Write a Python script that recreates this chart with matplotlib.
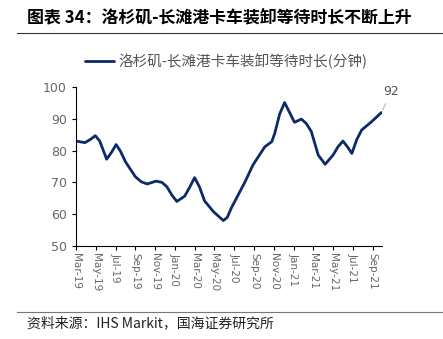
import matplotlib
matplotlib.use("Agg")
import matplotlib.pyplot as plt

plt.rcParams['font.family'] = ['Noto Sans CJK SC', 'DejaVu Sans']

# months since Mar-19, waiting time (minutes)
months = [0, 0.9, 1.5, 1.95, 2.4, 3.1, 3.6, 4.06, 4.5, 5, 6, 6.6, 7.2, 8.1, 8.7, 9.2, 9.7,
          10.2, 11, 11.5, 12, 12.5, 13, 13.9, 14.9, 15.3, 15.7, 17.1, 17.9, 19.1, 19.8,
          20.1, 20.6, 21.1, 21.6, 22.1, 22.8, 23.3, 23.8, 24.5, 25.2, 26, 26.5, 27,
          27.5, 27.9, 28.4, 28.9, 29.9, 30.9]
wait_min = [83, 82.5, 83.6, 84.7, 83.0, 77.3, 79.5, 81.9, 79.8, 76.5, 71.8, 70.2, 69.5,
            70.4, 70.0, 68.6, 66.0, 64, 65.7, 68.5, 71.5, 68.5, 64.2, 60.8, 58, 59.0,
            61.9, 70.2, 75.5, 81.2, 82.8, 85.4, 91.5, 95.1, 92.0, 88.9, 89.9, 88.5, 86,
            78.6, 75.7, 78.6, 81.2, 83, 81.0, 79.1, 83.5, 86.5, 89.1, 92]
tick_pos = list(range(0, 31, 2))
tick_labels = ["Mar-19", "May-19", "Jul-19", "Sep-19", "Nov-19", "Jan-20", "Mar-20", "May-20",
               "Jul-20", "Sep-20", "Nov-20", "Jan-21", "Mar-21", "May-21", "Jul-21", "Sep-21"]
series_name = "洛杉矶-长滩港卡车装卸等待时长(分钟)"

fig = plt.figure(figsize=(4.43, 3.39), dpi=100)
ax = fig.add_axes([76 / 443, 1 - 246 / 339, (382 - 76) / 443, (246 - 87) / 339])

line, = ax.plot(months, wait_min, color="#0c2a6a", lw=2.0, solid_capstyle="round",
                solid_joinstyle="round")
ax.set_xlim(0, 30.95)
ax.set_ylim(50, 100)
ax.set_yticks(range(50, 101, 10))
ax.set_xticks(tick_pos)
ax.set_xticklabels(tick_labels, rotation=270, fontsize=7.5, color="#666666",
                   family=["DejaVu Sans"])
ax.tick_params(axis="y", labelsize=9, colors="#666666", length=3, direction="out")
ax.tick_params(axis="x", length=3, direction="out", pad=2)
for lab in ax.get_yticklabels():
    lab.set_family(["DejaVu Sans"])
for s in ["top", "right"]:
    ax.spines[s].set_visible(False)
ax.spines["left"].set_color("black")
ax.spines["bottom"].set_color("black")
ax.tick_params(axis="both", which="both", color="black")

# end label
ax.annotate("92", xy=(months[-1], wait_min[-1]), xytext=(31.9, 96.5), fontsize=9,
            color="#555555", ha="center", va="bottom", family=["DejaVu Sans"],
            arrowprops=dict(arrowstyle="-", color="#bbbbbb", lw=0.8), annotation_clip=False)

# legend
fig.legend([line], [series_name], loc="center", bbox_to_anchor=(0.51, 1 - 61 / 339),
           frameon=False, fontsize=10.5, labelcolor="#555555", handlelength=2.0,
           handletextpad=0.3)

# title & source
fig.text(27 / 443, 1 - 17 / 339, "图表 34：洛杉矶-长滩港卡车装卸等待时长不断上升", fontsize=12.2,
         fontweight="bold", va="center", ha="left")
fig.add_artist(plt.Line2D([17 / 443, 1], [1 - 33 / 339] * 2, color="#333333", lw=0.8))
fig.add_artist(plt.Line2D([17 / 443, 1], [1 - 311.5 / 339] * 2, color="#777777", lw=0.8))
fig.text(27 / 443, 1 - 323 / 339, "资料来源：IHS Markit，国海证券研究所", fontsize=10,
         va="center", ha="left", color="#222222")

fig.savefig("out.png", dpi=100)
